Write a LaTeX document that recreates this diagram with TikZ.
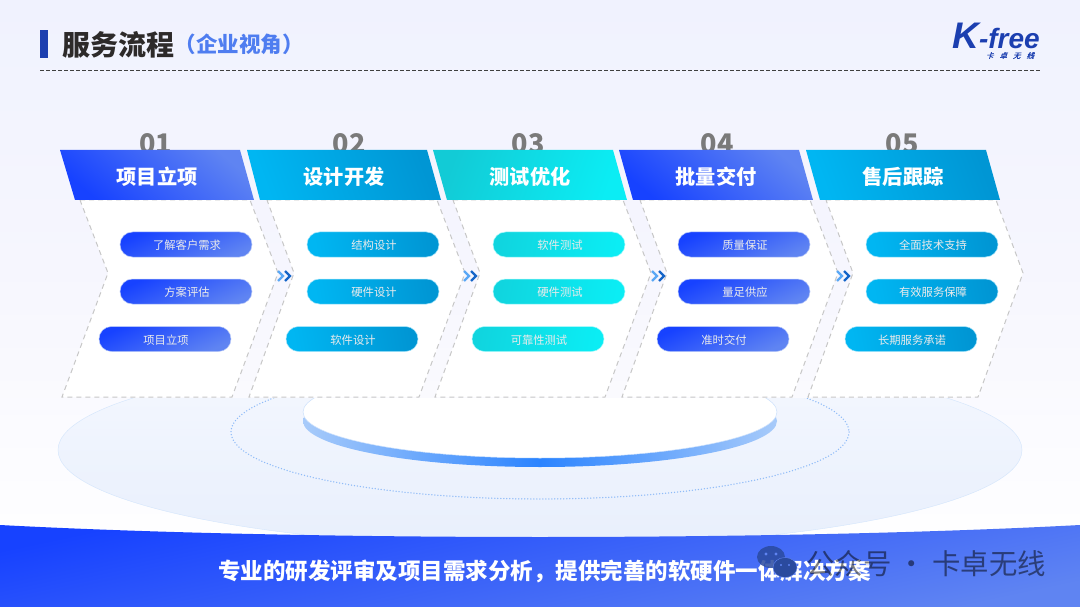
\documentclass[tikz,border=0pt]{standalone}
\usepackage{fontspec}
\setmainfont{Noto Sans CJK SC}
\newfontfamily\logofont[BoldItalicFont=* Bold Italic]{Liberation Sans}
\newfontfamily\logocjk[FakeSlant=0.3,FakeBold=1]{Noto Sans CJK SC}
\usetikzlibrary{positioning}
\definecolor{bluedark}{HTML}{1742FF}
\definecolor{bluelight}{HTML}{5F84F2}
\definecolor{skydark}{HTML}{00B6F2}
\definecolor{skylight}{HTML}{0096D4}
\definecolor{cyandark}{HTML}{0BEDF4}
\definecolor{cyanlight}{HTML}{12CBD6}
\definecolor{logoblue}{HTML}{1C3FB0}
\definecolor{rimblue}{HTML}{2B84FF}
\definecolor{rimlight}{HTML}{A8CBFA}
\definecolor{ringblue}{HTML}{8FBBF8}
\definecolor{iconblue}{HTML}{2A4A9E}
\definecolor{bgtop}{HTML}{F0F2FE}
\definecolor{bgmid}{HTML}{F6F6FE}
\definecolor{bgend}{HTML}{FEFEFF}
\definecolor{plattop}{HTML}{F5F8FF}
\definecolor{platend}{HTML}{E8EFFC}
\definecolor{chevfrontc}{HTML}{5AA8F5}
\definecolor{chevbackc}{HTML}{1565C8}
\definecolor{titleink}{HTML}{2D2A2A}
\definecolor{subink}{HTML}{4F7DF0}
\begin{document}
\begin{tikzpicture}[x=1pt, y=-1pt, every node/.style={inner sep=0pt, font=\fontsize{11.3}{13}\selectfont}]
  \tikzset{
    headblue/.style={bottom color=bluedark, top color=bluelight, shading angle=-40},
    headsky/.style={left color=skydark, right color=skylight, shading angle=110},
    headcyan/.style={left color=cyanlight, right color=cyandark, shading angle=70},
    headtext/.style={text=white, font=\fontsize{20.2}{24}\selectfont\bfseries},
    numtext/.style={text=black!52, font=\fontsize{27}{32}\selectfont\bfseries},
    panel/.style={fill=white, draw=black!22, line width=1pt, dash pattern=on 5pt off 4pt},
    pill/.style={minimum width=132pt, minimum height=25pt, rounded corners=12.5pt, line width=0.5pt, text=white!92!black, text height=10pt, text depth=0pt, execute at begin node={\hspace{2pt}}},
    pillblue/.style={pill, draw=bluelight!45!white, top color=bluedark, bottom color=bluelight, shading angle=25},
    pillsky/.style={pill, draw=skydark!35!white, left color=skydark, right color=skylight, shading angle=100},
    pillcyan/.style={pill, draw=cyandark!35!white, left color=cyanlight!70!cyandark, right color=cyandark, shading angle=80},
    chevfront/.style={line width=2.2pt, draw=chevfrontc},
    chevback/.style={line width=2.2pt, draw=chevbackc}
  }
  \useasboundingbox (0,0) rectangle (1080,607);

  % Page background
  \shade[top color=bgtop, bottom color=bgend, middle color=bgmid] (0,0) rectangle (1080,530);

  % Title row
  \fill[logoblue] (40,30) rectangle (48,58);
  \node[anchor=west, text=titleink, font=\fontsize{28}{32}\selectfont\bfseries] (title) at (62,45) {服务流程};
  \node[right=0pt of title, yshift=1pt, text=subink, font=\fontsize{21.5}{26}\selectfont\bfseries] (subtitle) {（企业视角）};
  \draw[black!75, line width=0.6pt, dash pattern=on 4pt off 2pt] (40,70.5) -- (1040,70.5);

  % Logo
  \node[anchor=base, text=logoblue, font=\logofont\bfseries\itshape] (logo) at (996,49) {\fontsize{37}{37}\selectfont K\fontsize{28}{28}\selectfont -free};
  \node[text=logoblue, font=\logocjk\fontsize{7.5}{8}\selectfont] (logosub) at (1010,55.5) {卡\hspace{6pt}卓\hspace{6pt}无\hspace{6pt}线};

  % Platform
  \begin{scope}
    \clip (0,398) rectangle (1080,560);
    \shade[top color=plattop, bottom color=platend, draw=rimlight!50!white] (540,450) ellipse [x radius=482, y radius=97];
    \draw[ringblue, line width=1.5pt, line cap=round, dash pattern=on 0pt off 3pt] (540,432) ellipse [x radius=309, y radius=67];
    \shade[left color=rimlight, right color=rimlight, middle color=rimblue] (540,421) ellipse [x radius=237, y radius=46];
    \fill[white, draw=rimlight!60!white, line width=0.5pt] (540,412) ellipse [x radius=237, y radius=46];
  \end{scope}

  % Numbers sit behind the heads
  \node[numtext] (numa) at (155.5,143.5) {01};
  \node[numtext] (numb) at (349,143.5) {02};
  \node[numtext] (numc) at (528,143.5) {03};
  \node[numtext] (numd) at (717,143.5) {04};
  \node[numtext] (nume) at (902,143.5) {05};

  % Dashed panels
  \draw[panel] (80,200) -- (250,200) -- (278,273) -- (232,397) -- (62,397) -- (108,273) -- cycle;
  \draw[panel] (267,200) -- (437,200) -- (465,273) -- (419,397) -- (249,397) -- (294,273) -- cycle;
  \draw[panel] (453,200) -- (623,200) -- (651,273) -- (605,397) -- (435,397) -- (480,273) -- cycle;
  \draw[panel] (640,200) -- (810,200) -- (838,273) -- (792,397) -- (622,397) -- (667,273) -- cycle;
  \draw[panel] (826,200) -- (996,200) -- (1023,273) -- (978,397) -- (808,397) -- (853,273) -- cycle;

  % Heads
  \path[headblue] (60,150) -- (240,150) -- (254,200) -- (75,200) -- cycle;
  \path[headsky] (247,150) -- (427,150) -- (441,200) -- (260,200) -- cycle;
  \path[headcyan] (433,150) -- (613,150) -- (627,200) -- (447,200) -- cycle;
  \path[headblue] (619,150) -- (799,150) -- (813,200) -- (633,200) -- cycle;
  \path[headsky] (806,150) -- (986,150) -- (1000,200) -- (820,200) -- cycle;
  \node[headtext] (heada) at (157,176.5) {项目立项};
  \node[headtext] (headb) at (344,176.5) {设计开发};
  \node[headtext] (headc) at (530,176.5) {测试优化};
  \node[headtext] (headd) at (716,176.5) {批量交付};
  \node[headtext] (heade) at (903,176.5) {售后跟踪};

  % Pills
  \node[pillblue] (pa1) at (186,244.5) {了解客户需求};
  \node[pillblue] (pa2) at (186,291.5) {方案评估};
  \node[pillblue] (pa3) at (165,339) {项目立项};
  \node[pillsky] (pb1) at (373,244.5) {结构设计};
  \node[pillsky] (pb2) at (373,291.5) {硬件设计};
  \node[pillsky] (pb3) at (352,339) {软件设计};
  \node[pillcyan] (pc1) at (559,244.5) {软件测试};
  \node[pillcyan] (pc2) at (559,291.5) {硬件测试};
  \node[pillcyan] (pc3) at (538,339) {可靠性测试};
  \node[pillblue] (pd1) at (744,244.5) {质量保证};
  \node[pillblue] (pd2) at (744,291.5) {量足供应};
  \node[pillblue] (pd3) at (723,339) {准时交付};
  \node[pillsky] (pe1) at (932,244.5) {全面技术支持};
  \node[pillsky] (pe2) at (932,291.5) {有效服务保障};
  \node[pillsky] (pe3) at (911,339) {长期服务承诺};

  % Double chevrons between the panels
  \draw[chevfront] (278,271) -- (283,276) -- (278,281);
  \draw[chevback] (285,271) -- (290,276) -- (285,281);
  \draw[chevfront] (464,271) -- (469,276) -- (464,281);
  \draw[chevback] (471,271) -- (476,276) -- (471,281);
  \draw[chevfront] (652,271) -- (657,276) -- (652,281);
  \draw[chevback] (659,271) -- (664,276) -- (659,281);
  \draw[chevfront] (837,271) -- (842,276) -- (837,281);
  \draw[chevback] (844,271) -- (849,276) -- (844,281);

  % Bottom band
  \shade[top color=bluedark, bottom color=bluelight, shading angle=12] (0,525) .. controls (300,541) and (780,541) .. (1080,525) -- (1080,607) -- (0,607) -- cycle;
  \node[text=white, font=\fontsize{22.5}{26}\selectfont\bfseries] (slogan) at (544.5,571) {专业的研发评审及项目需求分析，提供完善的软硬件一体解决方案};

  % Watermark
  \fill[iconblue, opacity=0.85] (771,557) ellipse [x radius=14, y radius=11];
  \fill[iconblue, draw=bluelight] (785,567.5) ellipse [x radius=12, y radius=10];
  \fill[bluelight] (766,554) circle (1.6) (776,554) circle (1.6) (781,565) circle (1.2) (789,565) circle (1.2);
  \node[anchor=west, text=black, opacity=0.5, font=\fontsize{28.4}{32}\selectfont] (mark) at (806,564) {公众号 · 卡卓无线};
\end{tikzpicture}
\end{document}
